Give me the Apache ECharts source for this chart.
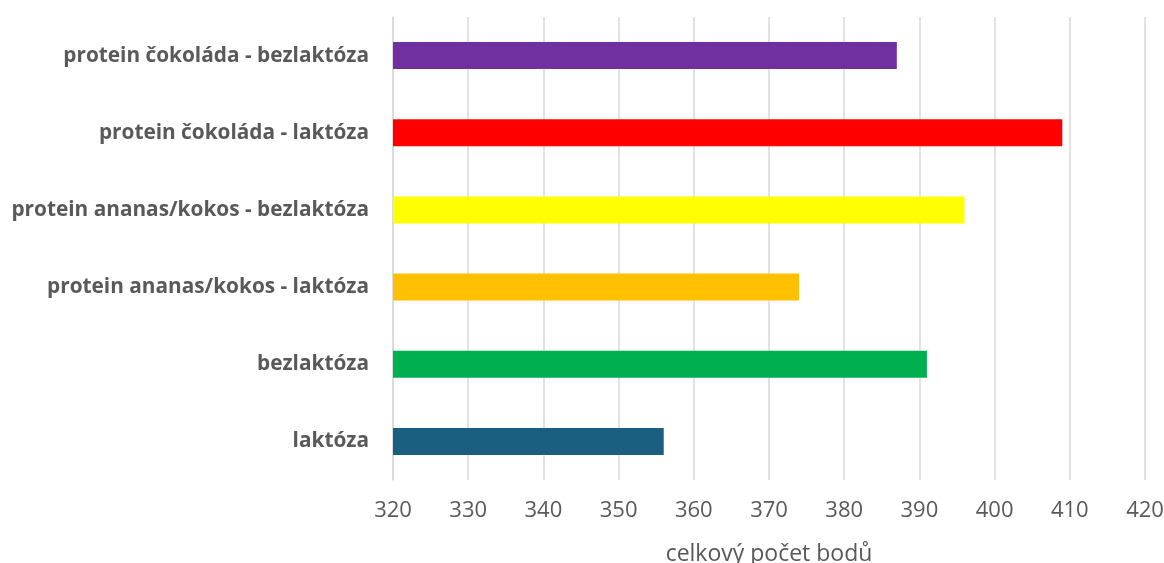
<!DOCTYPE html>
<html><head><meta charset="utf-8">
<script src="https://cdn.jsdelivr.net/npm/echarts@6/dist/echarts.min.js"></script>
<style>html,body{margin:0;padding:0;background:#fff}#c{width:1164px;height:563px}</style>
</head><body><div id="c"></div>
<script>
const categories = ['laktóza','bezlaktóza','protein ananas/kokos - laktóza','protein ananas/kokos - bezlaktóza','protein čokoláda - laktóza','protein čokoláda - bezlaktóza'];
const values = [356, 391, 374, 396, 409, 387];
const colors = ['#1A5E80','#00B050','#FFC000','#FFFF00','#FF0000','#7030A0'];
const axisName = 'celkový počet bodů';

const chart = echarts.init(document.getElementById('c'));
chart.setOption({
  animation: false,
  grid: {left: 393, right: 19, top: 17, bottom: 83, containLabel: false, outerBoundsMode: 'none'},
  xAxis: {
    type: 'value', min: 320, max: 420, interval: 10,
    name: axisName, nameLocation: 'middle', nameGap: 63,
    nameTextStyle: {color: '#595959', fontSize: 23, fontFamily: 'Open Sans'},
    axisLabel: {color: '#595959', fontSize: 22, fontFamily: 'Open Sans', margin: 20},
    axisLine: {show: false}, axisTick: {show: false},
    splitLine: {lineStyle: {color: '#D9D9D9', width: 1.5}}
  },
  yAxis: {
    type: 'category', data: categories,
    axisLabel: {color: '#595959', fontSize: 20.8, fontWeight: 'bold', fontFamily: 'Open Sans', margin: 24},
    axisLine: {show: true, lineStyle: {color: '#D9D9D9', width: 1.5}},
    axisTick: {show: false}
  },
  series: [{
    type: 'bar', barWidth: '35%',
    data: values.map((v, i) => ({value: v, itemStyle: {color: colors[i]}}))
  }]
});
</script></body></html>
